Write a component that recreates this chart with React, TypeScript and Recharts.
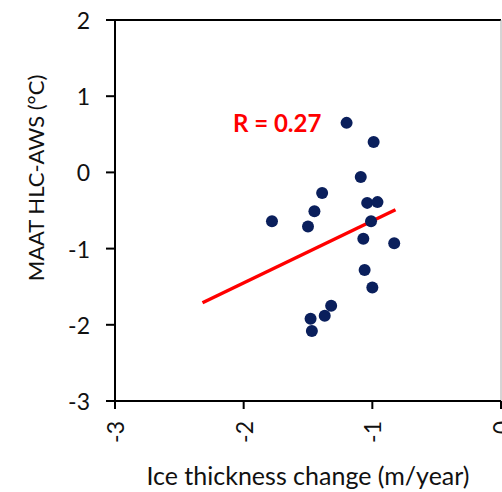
import {
  ScatterChart,
  Scatter,
  XAxis,
  YAxis,
  ReferenceLine,
  ReferenceDot,
} from "recharts";

// ice thickness change (m/year) vs MAAT difference HLC-AWS (°C)
const iceChange = [
  -1.2, -0.99, -1.09, -1.39, -1.45, -1.04, -0.96, -1.78, -1.5,
  -1.01, -1.07, -0.83, -1.06, -1.0, -1.32, -1.37, -1.48, -1.47,
];
const maatDiff = [
  0.65, 0.4, -0.06, -0.27, -0.51, -0.4, -0.39, -0.64, -0.71,
  -0.64, -0.87, -0.93, -1.28, -1.51, -1.75, -1.88, -1.92, -2.08,
];

const trendX = [-2.32, -0.82];
const trendY = [-1.71, -0.49];

const xTicks = [-3, -2, -1, 0];
const yTicks = [-3, -2, -1, 0, 1, 2];

const points = iceChange.map((x, i) => ({ x, y: maatDiff[i] }));

const FONT = "Lato, 'Open Sans', sans-serif";
const TEXT = "#111";

function XTick(props: any) {
  const { x, y, payload } = props;
  return (
    <text
      x={x}
      y={y + 10}
      transform={`rotate(-90, ${x}, ${y + 10})`}
      textAnchor="end"
      dominantBaseline="central"
      fontSize={23}
      fontFamily={FONT}
      fill={TEXT}
    >
      {payload.value}
    </text>
  );
}

function YTick(props: any) {
  const { x, y, payload } = props;
  return (
    <text
      x={x - 14}
      y={y}
      textAnchor="end"
      dominantBaseline="central"
      fontSize={23}
      fontFamily={FONT}
      fill={TEXT}
    >
      {payload.value}
    </text>
  );
}

export default function App() {
  return (
    <div style={{ width: 502, height: 492, background: "#fff" }}>
      <style>{"body{margin:0;overflow:hidden}"}</style>
      <ScatterChart
        width={502}
        height={492}
        margin={{ top: 20, right: 1, bottom: 0, left: 0 }}
      >
        <XAxis
          type="number"
          dataKey="x"
          domain={[-3, 0]}
          ticks={xTicks}
          interval={0}
          tick={<XTick />}
          tickSize={8}
          stroke="#000"
          strokeWidth={2}
          height={91}
          allowDataOverflow
          label={{
            value: "Ice thickness change (m/year)",
            content: () => (
              <text
                x={308}
                y={485}
                textAnchor="middle"
                fontSize={25}
                fontFamily={FONT}
                fill={TEXT}
              >
                Ice thickness change (m/year)
              </text>
            ),
          }}
        />
        <YAxis
          type="number"
          dataKey="y"
          domain={[-3, 2]}
          ticks={yTicks}
          interval={0}
          tick={<YTick />}
          tickSize={9}
          stroke="#000"
          strokeWidth={2}
          width={115}
          allowDataOverflow
          label={{
            value: "MAAT HLC-AWS (°C)",
            content: () => (
              <text
                x={44}
                y={178}
                transform="rotate(-90, 44, 178)"
                textAnchor="middle"
                fontSize={22}
                fontFamily={FONT}
                fill={TEXT}
              >
                MAAT HLC-AWS (°C)
              </text>
            ),
          }}
        />
        <ReferenceLine y={2} stroke="#000" strokeWidth={2} />
        <ReferenceLine x={0} stroke="#aaa" strokeWidth={1} />
        <Scatter
          data={points}
          fill="#0a1f5c"
          isAnimationActive={false}
          shape={(p: any) => <circle cx={p.cx} cy={p.cy} r={6} fill="#0a1f5c" />}
        />
        <ReferenceLine
          segment={[
            { x: trendX[0], y: trendY[0] },
            { x: trendX[1], y: trendY[1] },
          ]}
          stroke="#ff0000"
          strokeWidth={3.5}
        />
        <ReferenceDot
          x={-1.74}
          y={0.645}
          r={0}
          fill="none"
          stroke="none"
          label={{
            value: "R = 0.27",
            position: "center",
            fill: "#ff0000",
            fontSize: 24,
            fontWeight: 700,
            fontFamily: FONT,
          }}
        />
      </ScatterChart>
    </div>
  );
}
